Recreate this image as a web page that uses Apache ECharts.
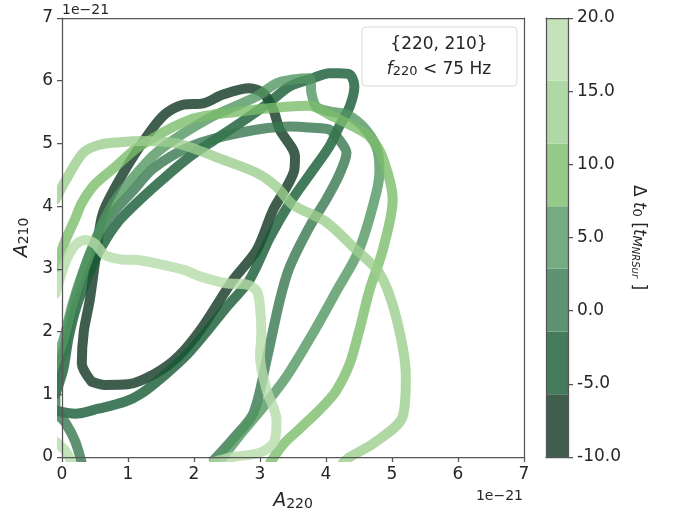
<!DOCTYPE html>
<html><head><meta charset="utf-8">
<script src="https://cdn.jsdelivr.net/npm/echarts@6/dist/echarts.min.js"></script>
<style>html,body{margin:0;padding:0;background:#fff}#c{width:675px;height:512px}</style>
</head><body><div id="c"></div>
<script>
// Contour levels (colorbar band edges), Δt0 in t_M units
const levelEdges = [-10, -5.71, -1.43, 2.86, 7.14, 11.43, 15.71, 20];
const colorbarTicks = [-10, -5, 0, 5, 10, 15, 20];
const axisTicks = [0, 1, 2, 3, 4, 5, 6, 7];

// Contour paths in units of 1e-21 ([A220, A210])
const contour0 = [[0.45,1.2],[0.65,1.15],[1.0,1.16],[1.41,1.33],[1.76,1.6],[2.1,2.03],[2.59,2.82],[2.95,3.3],[3.2,3.94],[3.4,4.3],[3.52,4.58],[3.53,4.79],[3.3,5.22],[3.2,5.54],[3.05,5.8],[2.84,5.88],[2.44,5.78],[2.14,5.64],[1.84,5.62],[1.6,5.5],[1.43,5.32],[1.18,4.95],[0.93,4.53],[0.62,3.89],[0.52,3.25],[0.42,2.5],[0.33,2.0],[0.3,1.49],[0.45,1.2]];
const contour1 = [[-0.1,0.74],[0.2,0.69],[0.55,0.77],[0.95,0.88],[1.2,1.01],[1.56,1.31],[1.91,1.65],[2.21,2.02],[2.5,2.4],[2.84,2.82],[3.15,3.5],[3.45,4.05],[3.75,4.5],[4.05,4.95],[4.2,5.27],[4.36,5.59],[4.43,5.91],[4.36,6.1],[4.2,6.12],[4.05,6.12],[3.8,6.04],[3.45,5.91],[3.1,5.62],[2.69,5.32],[2.3,5.05],[1.94,4.79],[1.55,4.45],[1.18,4.1],[0.85,3.75],[0.6,3.35],[0.4,2.9],[0.22,2.4],[0.1,1.9],[0.02,1.4],[-0.1,1.0]];
const contour2 = [[0.3,-0.1],[0.2,0.25],[0.05,0.55],[-0.1,0.75],[-0.1,1.3],[0.03,1.7],[0.1,2.1],[0.25,2.7],[0.45,3.3],[0.7,3.8],[1.08,4.25],[1.38,4.6],[1.94,4.95],[2.69,5.17],[3.45,5.27],[3.8,5.25],[4.05,5.22],[4.2,5.06],[4.31,4.85],[4.2,4.5],[4.0,4.1],[3.75,3.67],[3.45,3.03],[3.3,2.5],[3.1,1.55],[2.9,0.7],[2.6,0.3],[2.3,-0.05]];
const contour3 = [[-0.1,1.5],[0.03,1.9],[0.15,2.4],[0.3,2.9],[0.5,3.45],[0.7,3.9],[0.88,4.2],[1.43,4.85],[2.19,5.38],[2.95,5.75],[3.25,5.96],[3.5,6.02],[3.75,6.04],[3.78,5.8],[3.85,5.59],[4.05,5.51],[4.31,5.46],[4.56,5.27],[4.76,4.95],[4.81,4.58],[4.76,4.2],[4.5,3.3],[4.15,2.63],[3.8,1.97],[3.4,1.28],[3.05,0.8],[2.75,0.42],[2.4,-0.05]];
const contour4 = [[-0.1,3.0],[0.05,3.45],[0.2,3.8],[0.3,4.05],[0.5,4.35],[0.8,4.62],[1.17,4.95],[1.94,5.38],[2.69,5.51],[3.45,5.59],[3.75,5.6],[4.1,5.43],[4.5,5.22],[4.66,5.11],[4.85,4.8],[5.01,4.1],[4.86,3.3],[4.66,2.66],[4.5,2.0],[4.36,1.49],[4.15,1.05],[3.9,0.75],[3.6,0.45],[3.35,0.2],[3.15,-0.1]];
const contour5 = [[-0.1,4.1],[0.05,4.4],[0.32,4.85],[0.57,4.98],[0.88,5.02],[1.2,5.04],[1.74,5.0],[2.44,4.74],[2.95,4.53],[3.25,4.31],[3.5,4.02],[4.0,3.75],[4.41,3.35],[4.81,2.93],[5.06,2.24],[5.21,1.28],[5.16,0.64],[4.71,0.21],[4.36,0.0],[4.25,-0.1]];
const contour6a = [[-0.1,2.6],[0.05,3.1],[0.2,3.38],[0.35,3.46],[0.5,3.4],[0.65,3.22],[0.9,3.15],[1.15,3.14],[1.41,3.09],[1.86,2.98],[2.09,2.88],[2.49,2.77],[2.8,2.75],[2.95,2.65],[3.0,2.4],[3.02,1.97],[3.0,1.6],[3.1,1.07],[3.25,0.59],[3.22,0.25],[3.0,0.07],[2.59,0.0],[2.3,-0.08]];
const contour6b = [[-0.1,0.25],[0.05,0.1],[0.15,-0.1]];

const contourPaths = [[contour0],[contour1],[contour2],[contour3],[contour4],[contour5],[contour6a, contour6b]];

// styles
const bandColors = ['#405e4d','#437b5c','#5f9272','#74ab80','#95ca88','#b0d8a4','#c5e3bb'];
const ALPHA = 0.8;
function lineColor(hex){
  const r=parseInt(hex.slice(1,3),16), g=parseInt(hex.slice(3,5),16), b=parseInt(hex.slice(5,7),16);
  const f=v=>Math.max(0,Math.min(255,Math.round((v-255*(1-ALPHA))/ALPHA)));
  return 'rgba('+f(r)+','+f(g)+','+f(b)+','+ALPHA+')';
}
const FONT = 'DejaVu Sans';
const TXT = '#262626';
const AX = '#555';

const series = [];
contourPaths.forEach((paths, li) => {
  paths.forEach(p => {
    series.push({
      type:'line', xAxisIndex:0, yAxisIndex:0, data:p, showSymbol:false, smooth:0.3,
      clip:true, silent:true, z:2,
      lineStyle:{color:lineColor(bandColors[li]), width:10, cap:'round', join:'round'}
    });
  });
});
const bands = [];
for (let i=0;i<bandColors.length;i++) bands.push([levelEdges[i], levelEdges[i+1], i]);
series.push({
  type:'custom', xAxisIndex:2, yAxisIndex:2, data:bands, silent:true, z:1,
  renderItem:(params, api)=>{
    const p1 = api.coord([0, api.value(0)]);
    const p2 = api.coord([1, api.value(1)]);
    return {type:'rect', shape:{x:p1[0], y:p2[1], width:p2[0]-p1[0], height:p1[1]-p2[1]},
      style:{fill:bandColors[api.value(2)], stroke:null}};
  }
});

const lineAx = {show:true, onZero:false, lineStyle:{color:AX, width:1.25}};
const tickAx = {show:true, inside:false, length:5, lineStyle:{color:AX, width:1.25}};
const noTick = {show:false};
const lbl = {fontSize:17, color:TXT, fontFamily:FONT};
const plain = {axisLine:lineAx, axisTick:noTick, axisLabel:{show:false}, splitLine:{show:false}, z:5};

const chart = echarts.init(document.getElementById('c'), null, {renderer:'canvas'});
chart.setOption({
  animation:false,
  backgroundColor:'#fff',
  grid:[
    {left:62, top:18, width:462, height:439, containLabel:false, outerBoundsMode:'none'},
    {left:546, top:18, width:22, height:439, containLabel:false, outerBoundsMode:'none'}
  ],
  xAxis:[
    {gridIndex:0, type:'value', min:axisTicks[0], max:axisTicks[axisTicks.length-1], interval:1, position:'bottom', z:5,
     axisLine:lineAx, axisTick:tickAx, splitLine:{show:false},
     axisLabel:Object.assign({margin:9}, lbl),
     name:'{i|A}{s|220}', nameLocation:'middle', nameGap:32,
     nameTextStyle:{rich:{i:{fontSize:19, fontStyle:'italic', fontFamily:FONT, color:TXT, verticalAlign:'bottom', lineHeight:22}, s:{fontSize:14, fontFamily:FONT, color:TXT, verticalAlign:'bottom', lineHeight:16}}}},
    Object.assign({gridIndex:0, type:'value', min:0, max:7, position:'top'}, plain),
    Object.assign({gridIndex:1, type:'value', min:0, max:1, position:'bottom'}, plain),
    Object.assign({gridIndex:1, type:'value', min:0, max:1, position:'top'}, plain)
  ],
  yAxis:[
    {gridIndex:0, type:'value', min:axisTicks[0], max:axisTicks[axisTicks.length-1], interval:1, position:'left', z:5,
     axisLine:lineAx, axisTick:tickAx, splitLine:{show:false},
     axisLabel:Object.assign({margin:9}, lbl),
     name:'{i|A}{s|210}', nameLocation:'middle', nameGap:30, nameRotate:90,
     nameTextStyle:{rich:{i:{fontSize:19, fontStyle:'italic', fontFamily:FONT, color:TXT, verticalAlign:'bottom', lineHeight:22}, s:{fontSize:14, fontFamily:FONT, color:TXT, verticalAlign:'bottom', lineHeight:16}}}},
    Object.assign({gridIndex:0, type:'value', min:0, max:7, position:'right'}, plain),
    {gridIndex:1, type:'value', min:colorbarTicks[0], max:colorbarTicks[colorbarTicks.length-1], interval:5, position:'right', z:5,
     axisLine:lineAx, axisTick:tickAx, splitLine:{show:false},
     axisLabel:Object.assign({margin:9, formatter:v=>v.toFixed(1)}, lbl),
     name:'{n|Δ }{i|t}{s|0}{n| [}{i|t}{si|M}{ss|NRSur}{n| ]}', nameLocation:'middle', nameGap:62, nameRotate:-90,
     nameTextStyle:{rich:{
       n:{fontSize:17, fontFamily:FONT, color:TXT, verticalAlign:'bottom', lineHeight:20},
       i:{fontSize:17, fontStyle:'italic', fontFamily:FONT, color:TXT, verticalAlign:'bottom', lineHeight:20},
       s:{fontSize:13, fontFamily:FONT, color:TXT, verticalAlign:'bottom', lineHeight:15},
       si:{fontSize:13, fontStyle:'italic', fontFamily:FONT, color:TXT, verticalAlign:'bottom', lineHeight:15},
       ss:{fontSize:10, fontStyle:'italic', fontFamily:FONT, color:TXT, verticalAlign:'bottom', lineHeight:10}
     }}},
    Object.assign({gridIndex:1, type:'value', min:-10, max:20, position:'left'}, plain)
  ],
  graphic:[
    {type:'text', left:62, top:3, style:{text:'1e\u221221', fontSize:14, fontFamily:FONT, fill:TXT}},
    {type:'text', right:152, top:489, style:{text:'1e\u221221', fontSize:14, fontFamily:FONT, fill:TXT}},
    {type:'rect', shape:{x:362, y:27, width:155, height:59, r:4}, style:{fill:'rgba(255,255,255,0.8)', stroke:'#d9d9d9', lineWidth:1}, z:10},
    {type:'text', x:439, y:45, z:11, style:{text:'{220, 210}', fontSize:17, fontFamily:FONT, fill:TXT, align:'center', verticalAlign:'middle'}},
    {type:'text', x:439, y:68, z:11, style:{text:'{i|f}{s|220}{n| < 75 Hz}', align:'center', verticalAlign:'middle',
      rich:{
        i:{fontSize:17, fontStyle:'italic', fontFamily:FONT, fill:TXT, verticalAlign:'bottom', lineHeight:20},
        s:{fontSize:13, fontFamily:FONT, fill:TXT, verticalAlign:'bottom', lineHeight:15},
        n:{fontSize:17, fontFamily:FONT, fill:TXT, verticalAlign:'bottom', lineHeight:20}
      }}}
  ],
  series:series
});
</script></body></html>
